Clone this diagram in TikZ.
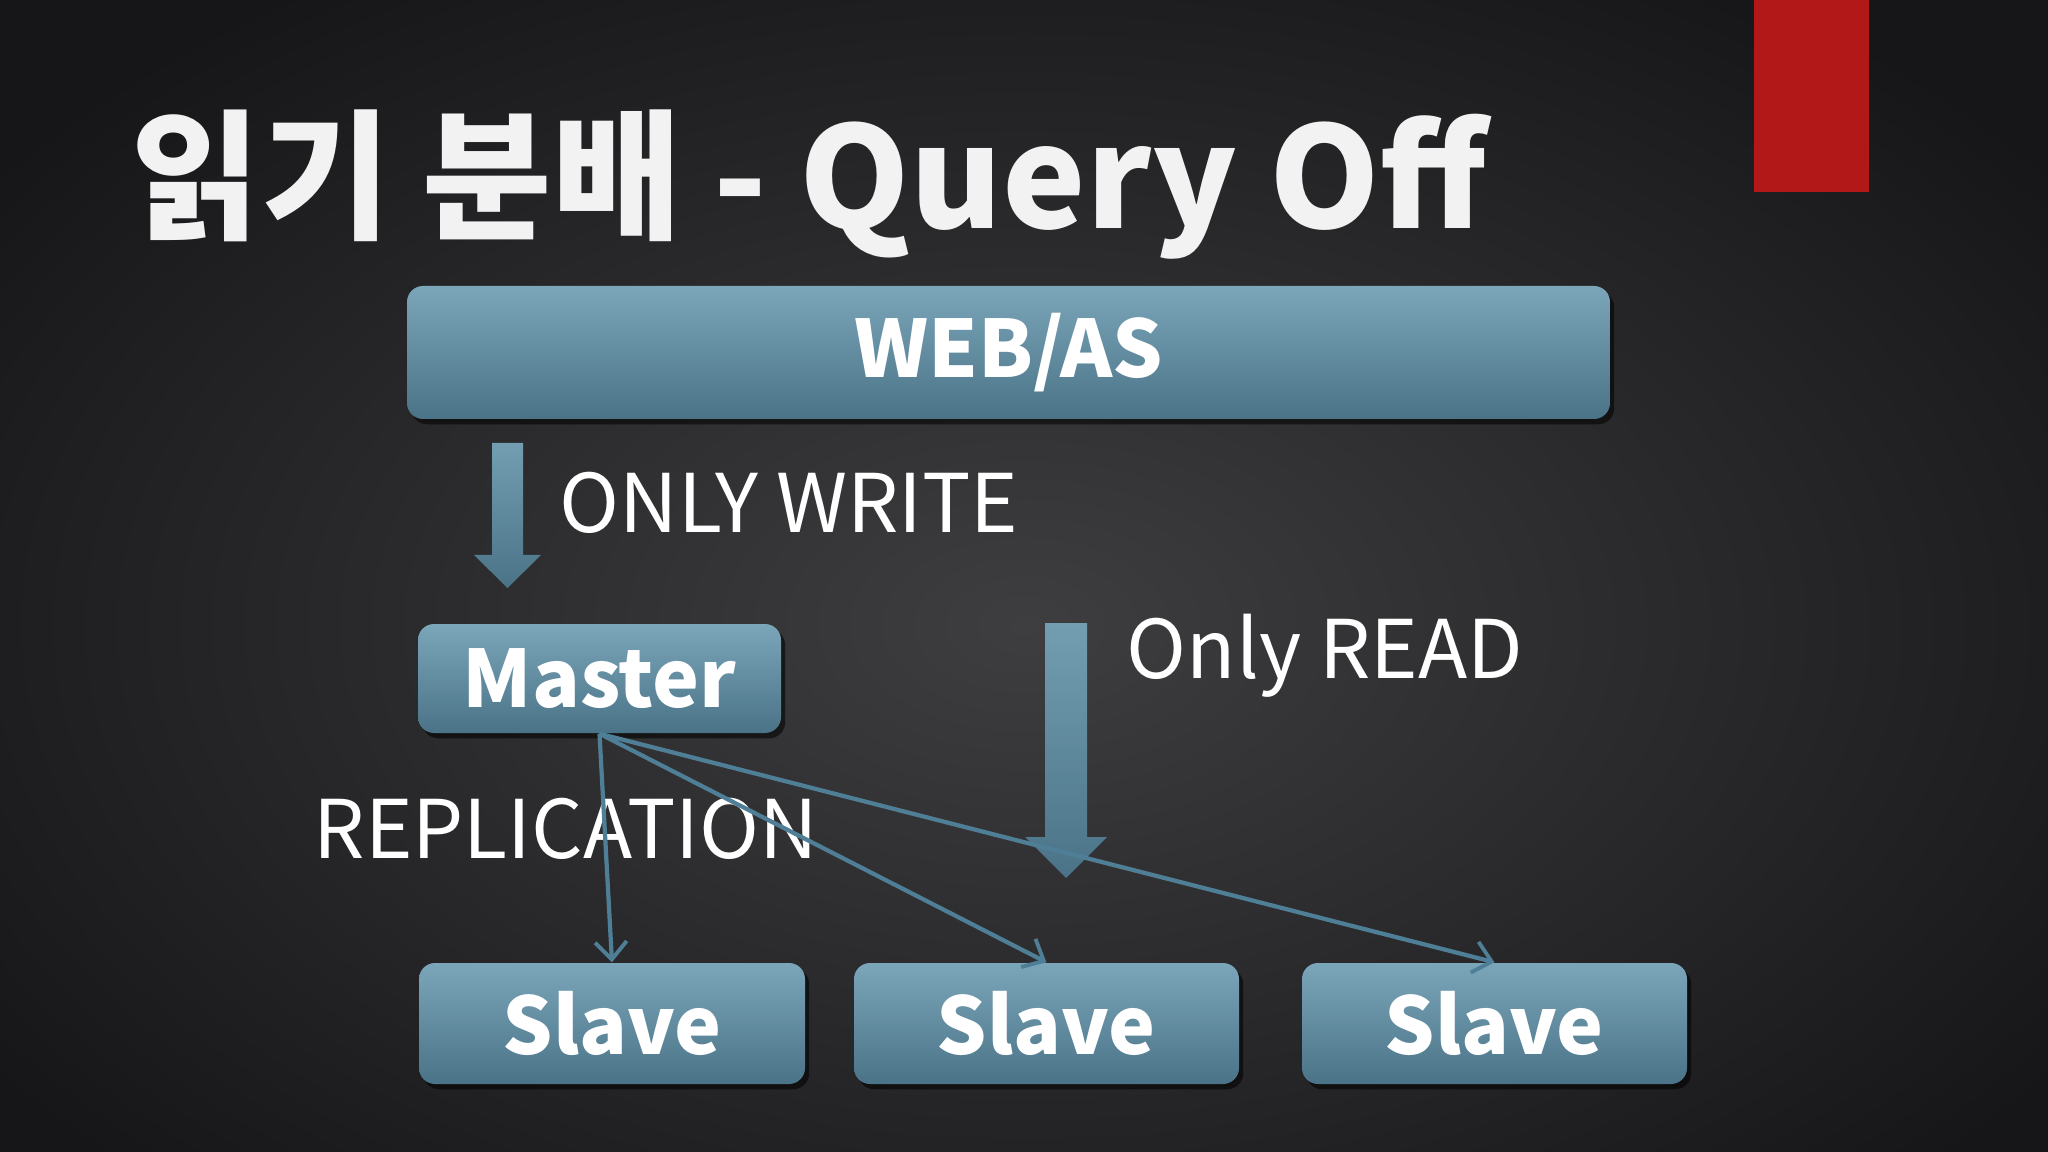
\documentclass[tikz,border=0pt]{standalone}
\usepackage{fontspec}
\setmainfont{Noto Sans CJK KR}
\usetikzlibrary{arrows.meta,shadows}
\definecolor{bgin}{HTML}{3E3D3F}
\definecolor{bgout}{HTML}{161618}
\definecolor{boxtop}{HTML}{7BA5B8}
\definecolor{boxbot}{HTML}{4A7388}
\definecolor{arrtop}{HTML}{739DB0}
\definecolor{arrbot}{HTML}{4A7387}
\definecolor{linkc}{HTML}{4F7F96}
\definecolor{redbar}{HTML}{B21818}
\definecolor{titlec}{HTML}{F2F2F2}
\tikzset{
  boxnode/.style={draw=none, rounded corners=0.16cm, top color=boxtop, bottom color=boxbot,
    text=white, font=\bfseries\fontsize{22.5}{27}\selectfont, inner sep=0pt,
    drop shadow={black, opacity=0.55, shadow xshift=1.2pt, shadow yshift=-1.5pt}},
  lbl/.style={text=white, font=\fontsize{23}{28}\selectfont, inner sep=0pt, anchor=base west},
  replink/.style={draw=linkc, line width=1.2pt, -{Straight Barb[length=5pt,width=9pt,line width=1.1pt]}},
  blockarrow/.style={top color=arrtop, bottom color=arrbot, draw=none}
}
\begin{document}
\begin{tikzpicture}[x=0.01cm, y=-0.01cm]
\useasboundingbox (0,0) rectangle (2048,1152);
% background
\shade[inner color=bgin, outer color=bgout] (-250,-150) rectangle (2300,1400);
% red bar
\fill[redbar] (1754,0) rectangle (1869,192);
% title
\node[text=titlec, font=\bfseries\fontsize{40}{48}\selectfont, inner sep=0pt, anchor=base west] (title) at (131,229) {읽기 분배 - Query Off};
% boxes
\node[boxnode, minimum width=1203*0.01cm, minimum height=133*0.01cm] (web) at (1008.5,352.5) {WEB/AS};
\node[boxnode, minimum width=363*0.01cm, minimum height=109*0.01cm] (master) at (599.5,678.5) {Master};
\node[boxnode, minimum width=386*0.01cm, minimum height=121*0.01cm] (s1) at (612,1023.5) {Slave};
\node[boxnode, minimum width=385*0.01cm, minimum height=121*0.01cm] (s2) at (1046.5,1023.5) {Slave};
\node[boxnode, minimum width=385*0.01cm, minimum height=121*0.01cm] (s3) at (1494.5,1023.5) {Slave};
% block arrows
\shade[blockarrow] (492,443) -- (523,443) -- (523,555) -- (541,555) -- (507.5,588) -- (474,555) -- (492,555) -- cycle;
\shade[blockarrow] (1045,623) -- (1087,623) -- (1087,837) -- (1107,837) -- (1066,878) -- (1025,837) -- (1045,837) -- cycle;
% labels
\node[lbl] (wr) at (559,533) {ONLY WRITE};
\node[lbl] (rd) at (1126,679) {Only READ};
\node[lbl] (rep) at (313,858) {REPLICATION};
% replication links
\draw[replink] (master.south) -- (s1.north);
\draw[replink] (master.south) -- (s2.north);
\draw[replink] (master.south) -- (s3.north);
\end{tikzpicture}
\end{document}
